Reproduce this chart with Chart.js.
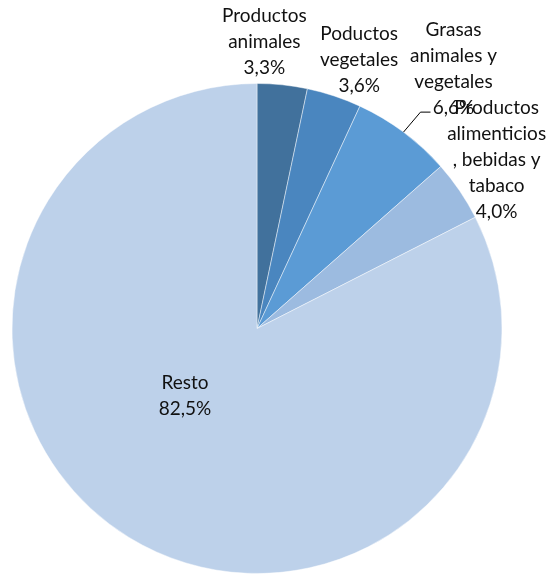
<!DOCTYPE html>
<html>
<head>
<meta charset="utf-8">
<script src="https://cdn.jsdelivr.net/npm/chart.js@4.4.0/dist/chart.umd.min.js"></script>
<style>
  html, body { margin: 0; padding: 0; background: #fff; }
  #wrap { width: 553px; height: 576px; position: relative; }
</style>
</head>
<body>
<div id="wrap"><canvas id="myChart"></canvas></div>
<script>
const categories = [
    ['Productos', 'animales'],
    ['Poductos', 'vegetales'],
    ['Grasas', 'animales y', 'vegetales'],
    ['Productos', 'alimenticios', ', bebidas y', 'tabaco'],
    ['Resto']
];
const shares = [3.3, 3.6, 6.6, 4.0, 82.5];
const percentLabels = ['3,3%', '3,6%', '6,6%', '4,0%', '82,5%'];
const sliceColors = ['#41719c', '#4a86bf', '#5b9bd5', '#9cbbe0', '#bdd1ea'];

// where each label sits: anchor on the arc (radius factor) + nudge in px
const labelPlacement = [
    { r: 1.0, dx: -18, dy: -43 },
    { r: 1.0, dx: 25, dy: -36 },
    { r: 1.0, dx: 50, dy: -63, leader: true },
    { r: 1.0, dx: 37, dy: -31 },
    { r: 0.5, dx: -8, dy: -37 }
];

const LINE_H = 26;

const pieLabels = {
    id: 'pieLabels',
    afterDatasetsDraw(chart) {
        const ctx = chart.ctx;
        const meta = chart.getDatasetMeta(0);
        ctx.save();
        ctx.font = '19px Lato';
        ctx.fillStyle = '#111';
        ctx.textAlign = 'center';
        ctx.textBaseline = 'middle';
        meta.data.forEach((arc, i) => {
            const p = labelPlacement[i];
            const mid = (arc.startAngle + arc.endAngle) / 2;
            const ax = arc.x + Math.cos(mid) * arc.outerRadius * p.r;
            const ay = arc.y + Math.sin(mid) * arc.outerRadius * p.r;
            const lines = categories[i].concat([percentLabels[i]]);
            const cx = ax + p.dx;
            const cy = ay + p.dy;
            const top = cy - (lines.length - 1) * LINE_H / 2;
            if (p.leader) {
                const lastY = top + (lines.length - 1) * LINE_H;
                ctx.strokeStyle = '#000';
                ctx.lineWidth = 1;
                ctx.beginPath();
                ctx.moveTo(ax, ay);
                ctx.lineTo(ax + 17, lastY + 4);
                ctx.lineTo(ax + 27, lastY + 4);
                ctx.stroke();
            }
            lines.forEach((t, k) => {
                ctx.fillText(t, cx, top + k * LINE_H);
            });
        });
        ctx.restore();
    }
};

new Chart(document.getElementById('myChart'), {
    type: 'pie',
    data: {
        labels: categories.map(c => c.join(' ')),
        datasets: [{
            data: shares,
            backgroundColor: sliceColors,
            borderColor: 'rgba(255,255,255,0.45)',
            borderWidth: 1
        }]
    },
    options: {
        responsive: true,
        maintainAspectRatio: false,
        animation: false,
        layout: {
            padding: { left: 11, right: 50, top: 83, bottom: 2 }
        },
        plugins: {
            legend: { display: false },
            tooltip: { enabled: false }
        }
    },
    plugins: [pieLabels]
});
</script>
</body>
</html>
